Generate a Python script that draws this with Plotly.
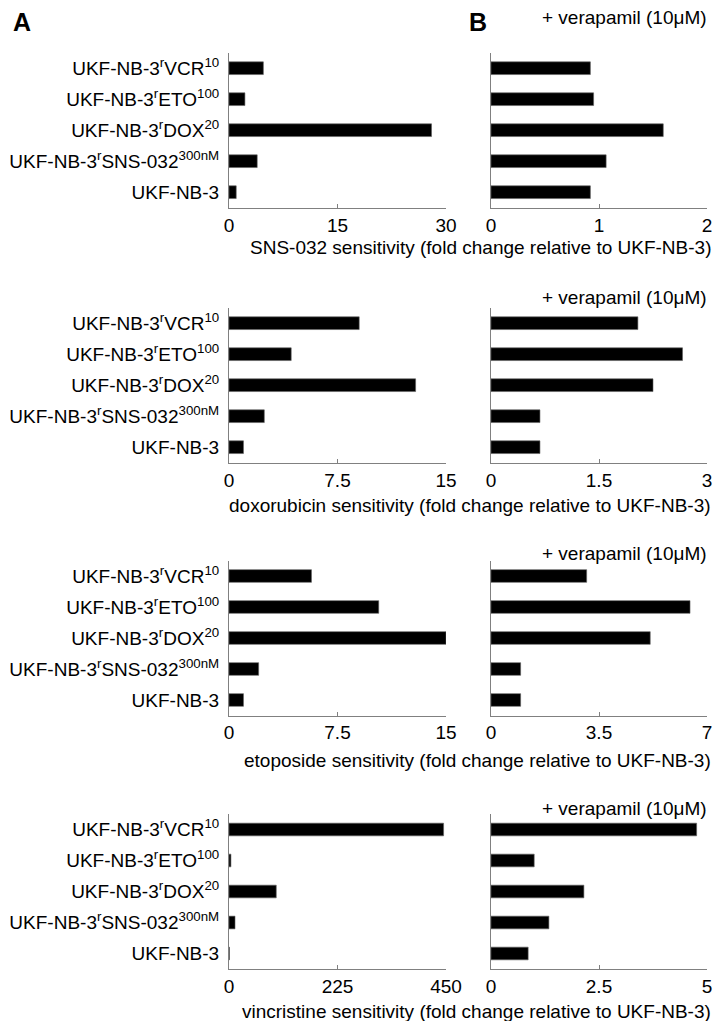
import plotly.graph_objects as go

W, H = 715, 1021

categories = [
    "UKF-NB-3<sup>r</sup>VCR<sup>10</sup>",
    "UKF-NB-3<sup>r</sup>ETO<sup>100</sup>",
    "UKF-NB-3<sup>r</sup>DOX<sup>20</sup>",
    "UKF-NB-3<sup>r</sup>SNS-032<sup>300nM</sup>",
    "UKF-NB-3",
]

drugs = ["SNS-032", "doxorubicin", "etoposide", "vincristine"]

# Panel A (without verapamil)
sns032_a = [4.75, 2.2, 28.0, 3.9, 1.0]
doxorubicin_a = [9.0, 4.3, 12.9, 2.44, 1.0]
etoposide_a = [5.7, 10.35, 15.0, 2.05, 1.0]
vincristine_a = [445, 4, 98, 12.5, 1.0]

# Panel B (+ verapamil 10 µM)
sns032_b = [0.92, 0.95, 1.595, 1.066, 0.92]
doxorubicin_b = [2.04, 2.66, 2.25, 0.68, 0.68]
etoposide_b = [3.1, 6.45, 5.16, 0.96, 0.96]
vincristine_b = [4.76, 1.0, 2.15, 1.34, 0.86]

left_ticks = [[0, 15, 30], [0, 7.5, 15], [0, 7.5, 15], [0, 225, 450]]
left_ticktext = [["0", "15", "30"], ["0", "7.5", "15"], ["0", "7.5", "15"], ["0", "225", "450"]]
right_ticks = [[0, 1, 2], [0, 1.5, 3], [0, 3.5, 7], [0, 2.5, 5]]
right_ticktext = [["0", "1", "2"], ["0", "1.5", "3"], ["0", "3.5", "7"], ["0", "2.5", "5"]]

left_values = [sns032_a, doxorubicin_a, etoposide_a, vincristine_a]
right_values = [sns032_b, doxorubicin_b, etoposide_b, vincristine_b]

FONT = "Liberation Sans, Arial, sans-serif"
FS = 19
AXIS_COLOR = "#808080"

# pixel layout
left_x = (229, 446)
right_x = (491, 707)
row_y = [(52.7, 207.7), (307.7, 462.7), (560.5, 715.5), (814, 969)]
title_y = [248, 505, 760, 1011]
vera_y = [18, 297, 553, 808]

def px_x(x):
    return x / W

def px_y(y):
    return 1 - y / H

fig = go.Figure()
layout = {}
for r in range(4):
    for c in range(2):
        idx = r * 2 + c + 1
        xa = "x" if idx == 1 else f"x{idx}"
        ya = "y" if idx == 1 else f"y{idx}"
        vals = left_values[r] if c == 0 else right_values[r]
        fig.add_trace(go.Bar(
            x=vals, y=categories, orientation="h", xaxis=xa, yaxis=ya,
            width=0.41,
            marker=dict(color="#000000", line=dict(color="#606060", width=0.6)),
            showlegend=False, hoverinfo="x+y",
        ))
        xd = left_x if c == 0 else right_x
        yd = row_y[r]
        ticks = left_ticks[r] if c == 0 else right_ticks[r]
        ttext = left_ticktext[r] if c == 0 else right_ticktext[r]
        layout["xaxis" if idx == 1 else f"xaxis{idx}"] = dict(
            domain=[px_x(xd[0]), px_x(xd[1])],
            anchor=ya, range=[0, ticks[-1]],
            tickvals=ticks, ticktext=ttext,
            ticks="inside", ticklen=4, tickwidth=1, tickcolor=AXIS_COLOR,
            showline=True, linecolor=AXIS_COLOR, linewidth=1,
            showgrid=False, zeroline=False, automargin=False,
            tickfont=dict(family=FONT, size=FS, color="#000"),
            fixedrange=True,
        )
        layout["yaxis" if idx == 1 else f"yaxis{idx}"] = dict(
            domain=[px_y(yd[1]), px_y(yd[0])],
            anchor=xa, type="category",
            categoryorder="array", categoryarray=categories,
            range=[4.5, -0.5],
            showline=True, linecolor=AXIS_COLOR, linewidth=1,
            ticks="", showgrid=False, zeroline=False, automargin=False,
            showticklabels=(c == 0), ticklabelstandoff=5,
            tickfont=dict(family=FONT, size=FS, color="#000"),
            fixedrange=True,
        )

annotations = []
for r in range(4):
    annotations.append(dict(
        text=f"{drugs[r]} sensitivity (fold change relative to UKF-NB-3)",
        x=px_x(712), y=px_y(title_y[r]), xref="paper", yref="paper",
        xanchor="right", yanchor="middle", showarrow=False, borderpad=0,
        font=dict(family=FONT, size=FS, color="#000"),
    ))
    annotations.append(dict(
        text="+ verapamil (10μM)",
        x=px_x(708), y=px_y(vera_y[r]), xref="paper", yref="paper",
        xanchor="right", yanchor="middle", showarrow=False, borderpad=0,
        font=dict(family=FONT, size=FS, color="#000"),
    ))
annotations.append(dict(
    text="<b>A</b>", x=px_x(11), y=px_y(22), xref="paper", yref="paper",
    xanchor="left", yanchor="middle", showarrow=False,
    font=dict(family=FONT, size=25, color="#000"),
))
annotations.append(dict(
    text="<b>B</b>", x=px_x(467), y=px_y(22), xref="paper", yref="paper",
    xanchor="left", yanchor="middle", showarrow=False,
    font=dict(family=FONT, size=25, color="#000"),
))

fig.update_layout(
    **layout,
    annotations=annotations,
    width=W, height=H,
    margin=dict(l=0, r=0, t=0, b=0, autoexpand=False),
    paper_bgcolor="white", plot_bgcolor="white",
    bargap=0.5,
    font=dict(family=FONT, size=FS, color="#000"),
)

fig.write_html("out.html", config={"displayModeBar": False})
